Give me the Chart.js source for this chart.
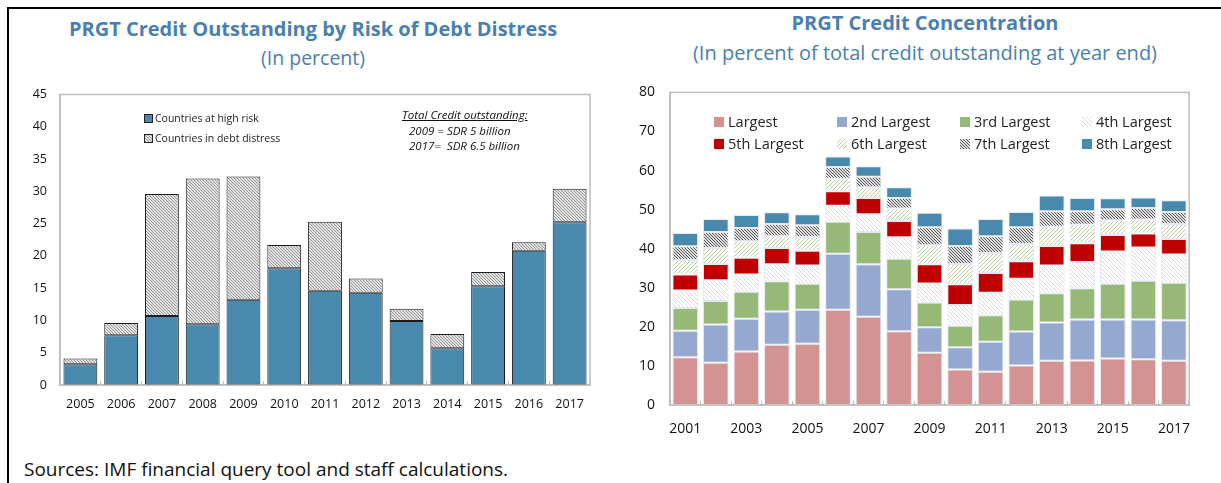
<!DOCTYPE html>
<html>
<head>
<meta charset="utf-8">
<script src="https://cdn.jsdelivr.net/npm/chart.js@4"></script>
<style>
  html, body { margin: 0; padding: 0; background: #fff; }
  body { width: 1221px; height: 483px; position: relative; overflow: hidden; font-family: 'Open Sans', sans-serif; }
  .frame-top { position: absolute; left: 7px; top: 7px; right: 0; height: 2px; background: #000; }
  .frame-left { position: absolute; left: 7px; top: 7px; bottom: 0; width: 2px; background: #000; }
  .title { position: absolute; color: #4a7fb3; text-align: center; white-space: nowrap; transform: translateX(-50%); }
  .title b { font-weight: 700; }
  .box { position: absolute; }
  .lg { position: absolute; display: flex; align-items: center; white-space: nowrap; color: #222; }
  .sw { display: inline-block; box-sizing: border-box; }
  .note { position: absolute; font-style: italic; font-size: 11.5px; color: #111; white-space: pre; }
  .src { position: absolute; left: 24px; top: 456px; font-size: 19px; color: #111; }
</style>
</head>
<body>
<div class="frame-top"></div>
<div class="frame-left"></div>

<div class="title" style="left:313px; top:15px; font-size:20px;"><b>PRGT Credit Outstanding by Risk of Debt Distress</b></div>
<div class="title" style="left:313px; top:44px; font-size:19.5px;">(In percent)</div>
<div class="title" style="left:925px; top:9px; font-size:20px;"><b>PRGT Credit Concentration</b></div>
<div class="title" style="left:925px; top:39px; font-size:20px;">(In percent of total credit outstanding at year end)</div>

<div class="box" style="left:0px; top:82px; width:600px; height:336px;"><canvas id="riskChart"></canvas></div>
<div class="box" style="left:610px; top:77px; width:600px; height:363px;"><canvas id="concChart"></canvas></div>

<div id="riskLegend"></div>
<div id="concLegend"></div>

<div class="note" style="left:402px; top:107px; text-decoration: underline;">Total Credit outstanding:</div>
<div class="note" style="left:409px; top:123px;">2009 = SDR 5 billion</div>
<div class="note" style="left:409px; top:138px;">2017=  SDR 6.5 billion</div>

<div class="src">Sources: IMF financial query tool and staff calculations.</div>

<script>
// left panel
const riskYears = ['2005', '2006', '2007', '2008', '2009', '2010', '2011', '2012', '2013', '2014', '2015', '2016', '2017'];
const riskNames = ['Countries at high risk', 'Countries in debt distress'];
const highRisk = [3.2, 7.7, 10.7, 9.4, 13.2, 18.1, 14.6, 14.3, 9.9, 5.7, 15.3, 20.8, 25.2];
const debtDistress = [0.9, 1.9, 18.9, 22.6, 19.1, 3.6, 10.7, 2.2, 1.9, 2.2, 2.2, 1.3, 5.2];

// right panel
const concYears = ['2001', '2002', '2003', '2004', '2005', '2006', '2007', '2008', '2009',
  '2010', '2011', '2012', '2013', '2014', '2015', '2016', '2017'];
const concNames = ['Largest', '2nd Largest', '3rd Largest', '4th Largest',
  '5th Largest', '6th Largest', '7th Largest', '8th Largest'];
const largest = [12.2, 10.8, 13.7, 15.4, 15.7, 24.4, 22.6, 18.9, 13.4, 9.1, 8.5, 10.1, 11.3, 11.4, 11.9, 11.7, 11.3];
const second  = [6.8, 9.8, 8.4, 8.5, 8.7, 14.3, 13.4, 10.7, 6.5, 5.7, 7.7, 8.7, 9.8, 10.5, 10.0, 10.2, 10.4];
const third   = [5.8, 6.0, 6.9, 7.8, 6.6, 8.2, 8.3, 7.8, 6.3, 5.5, 6.8, 8.2, 7.5, 8.0, 9.1, 9.9, 9.6];
const fourth  = [4.5, 5.3, 4.4, 4.3, 4.7, 4.1, 4.5, 5.5, 4.9, 5.3, 5.7, 5.3, 7.1, 6.7, 8.3, 8.5, 7.2];
const fifth   = [4.1, 4.2, 4.3, 4.2, 3.8, 3.7, 4.2, 4.2, 4.9, 5.3, 5.1, 4.5, 5.0, 4.8, 4.2, 3.6, 4.0];
const sixth   = [3.7, 4.1, 4.2, 3.0, 3.5, 3.2, 2.7, 3.2, 4.9, 5.2, 5.1, 4.4, 4.9, 4.7, 3.8, 3.6, 3.8];
const seventh = [3.5, 4.1, 3.4, 3.1, 3.0, 3.0, 2.7, 2.7, 4.6, 4.6, 4.3, 4.3, 4.0, 3.5, 2.8, 2.9, 3.1];
const eighth  = [3.4, 3.3, 3.3, 3.0, 2.8, 2.7, 2.7, 2.7, 3.7, 4.5, 4.4, 3.9, 4.0, 3.4, 2.8, 2.7, 3.0];

const FONT = "'Open Sans', sans-serif";
const AXIS = '#bdbdbd';
const BLUE = '#4a89ae';

/** small hatch tile: dir 1 = '\', -1 = '/' */
function hatchTile(bg, fg, size, dir) {
  const c = document.createElement('canvas');
  c.width = size; c.height = size;
  const g = c.getContext('2d');
  g.fillStyle = bg;
  g.fillRect(0, 0, size, size);
  g.fillStyle = fg;
  for (let i = 0; i < size; i++) {
    const x = dir > 0 ? i : size - 1 - i;
    g.fillRect(x, i, 1, 1);
  }
  return c;
}

const tiles = {
  distress: hatchTile('#e2e2e2', '#979797', 3, 1),
  fourth: hatchTile('#ffffff', '#dadada', 4, 1),
  sixth: hatchTile('#ffffff', '#b3d198', 4, -1),
  seventh: hatchTile('#e0e0e0', '#555555', 3, 1)
};
const pat = t => document.createElement('canvas').getContext('2d').createPattern(t, 'repeat');

const riskColors = [BLUE, pat(tiles.distress)];
const riskSwatch = [BLUE, tiles.distress];
const concColors = ['#d39393', '#95a9d0', '#97b978', pat(tiles.fourth), '#c00000', pat(tiles.sixth), pat(tiles.seventh), BLUE];
const concSwatch = ['#d39393', '#95a9d0', '#97b978', tiles.fourth, '#c00000', tiles.sixth, tiles.seventh, BLUE];
const concSeries = [largest, second, third, fourth, fifth, sixth, seventh, eighth];

function swatchCss(s) {
  return typeof s === 'string' ? `background:${s};` : `background-image:url(${s.toDataURL()});`;
}

// legends (html overlays)
const riskLegend = document.getElementById('riskLegend');
riskNames.forEach((n, i) => {
  riskLegend.insertAdjacentHTML('beforeend',
    `<div class="lg" style="left:144px; top:${111 + i * 20}px; font-size:10.5px;">
      <span class="sw" style="width:9px;height:9px;border:1px solid #222;margin-right:2px;${swatchCss(riskSwatch[i])}"></span>${n}</div>`);
});
const concLegend = document.getElementById('concLegend');
const colX = [714, 837, 960, 1082];
concNames.forEach((n, i) => {
  const col = i % 4, row = Math.floor(i / 4);
  concLegend.insertAdjacentHTML('beforeend',
    `<div class="lg" style="left:${colX[col]}px; top:${112 + row * 22}px; font-size:14.5px;">
      <span class="sw" style="width:10px;height:10px;margin-right:4px;${swatchCss(concSwatch[i])}"></span>${n}</div>`);
});

// box round the plot area
const boxPlugin = {
  id: 'plotBox',
  afterDraw(chart) {
    const a = chart.chartArea, ctx = chart.ctx;
    ctx.save();
    ctx.strokeStyle = AXIS;
    ctx.lineWidth = 1.5;
    ctx.strokeRect(a.left, a.top, a.right - a.left, a.bottom - a.top);
    ctx.restore();
  }
};

function axes(yMax, yStep, yWidth, xHeight, tickSize, xPad, yPad, everyOther) {
  return {
    x: {
      stacked: true,
      afterFit: s => { s.height = xHeight; },
      border: { color: AXIS, width: 1.5 },
      grid: { drawOnChartArea: false, color: AXIS, tickLength: -4, offset: true },
      ticks: {
        color: '#111', padding: xPad, maxRotation: 0, autoSkip: false,
        font: { family: FONT, size: tickSize },
        callback(v, i) { return everyOther && i % 2 ? '' : this.getLabelForValue(v); }
      }
    },
    y: {
      stacked: true, min: 0, max: yMax,
      afterFit: s => { s.width = yWidth; },
      border: { color: AXIS, width: 1.5 },
      grid: { display: false },
      ticks: { stepSize: yStep, color: '#111', padding: yPad, font: { family: FONT, size: tickSize } }
    }
  };
}

new Chart(document.getElementById('riskChart'), {
  type: 'bar',
  data: {
    labels: riskYears,
    datasets: [highRisk, debtDistress].map((d, i) => ({
      label: riskNames[i],
      data: d,
      backgroundColor: riskColors[i],
      borderColor: '#1c1c1c',
      borderWidth: 1,
      borderSkipped: false,
      categoryPercentage: 0.83,
      barPercentage: 1
    }))
  },
  options: {
    responsive: true,
    maintainAspectRatio: false,
    animation: false,
    layout: { padding: { top: 0, right: 2, left: 0, bottom: 0 } },
    plugins: { legend: { display: false }, tooltip: { enabled: false } },
    scales: axes(45, 5, 60, 33, 12.5, 16, 5, false)
  },
  plugins: [boxPlugin]
});

new Chart(document.getElementById('concChart'), {
  type: 'bar',
  data: {
    labels: concYears,
    datasets: concSeries.map((d, i) => ({
      label: concNames[i],
      data: d,
      backgroundColor: concColors[i],
      borderColor: 'rgba(225,230,238,0.9)',
      borderWidth: 1,
      borderSkipped: false,
      categoryPercentage: 0.84,
      barPercentage: 1
    }))
  },
  options: {
    responsive: true,
    maintainAspectRatio: false,
    animation: false,
    layout: { padding: { top: 0, right: 3, left: 0, bottom: 0 } },
    plugins: { legend: { display: false }, tooltip: { enabled: false } },
    scales: axes(80, 10, 60, 35, 14, 20, 7, true)
  },
  plugins: [boxPlugin]
});
</script>
</body>
</html>
